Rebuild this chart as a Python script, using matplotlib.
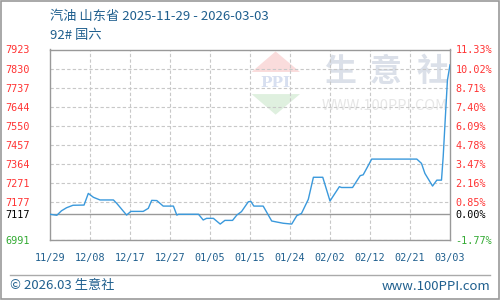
import numpy as np
import matplotlib
matplotlib.use('Agg')
import matplotlib.pyplot as plt
from matplotlib.patches import Rectangle, Polygon

plt.rcParams['font.family'] = ['Noto Sans CJK SC', 'DejaVu Sans']

# price series, x = days since 2025-11-29
days = [0, 1.6, 2.7, 3.9, 5.4, 8.0, 9.0, 10.2, 11.75, 14.9, 15.7, 18.0, 19.0, 21.9,
        23.1, 23.9, 25.1, 26.6, 29.0, 29.8, 30.2, 34.9, 36.0, 36.8, 38.4, 40.0, 41.1,
        42.9, 43.9, 45.0, 46.6, 47.2, 47.9, 50.1, 52.1, 53.3, 54.8, 56.8, 58.0, 59.1,
        60.7, 61.9, 64.1, 65.8, 68.0, 68.5, 71.1, 72.9, 73.6, 75.6, 86.2, 87.3, 88.1,
        89.9, 90.9, 92.0, 92.4, 93.0, 93.4, 94]
prices = [7117, 7112, 7134, 7149, 7161, 7162, 7219, 7200, 7187, 7187, 7170, 7113, 7131, 7131,
          7146, 7185, 7184, 7157, 7157, 7113, 7117, 7117, 7089, 7097, 7097, 7069, 7087,
          7087, 7113, 7130, 7178, 7180, 7157, 7157, 7084, 7079, 7073, 7069, 7110, 7121,
          7190, 7298, 7298, 7182, 7252, 7248, 7248, 7306, 7310, 7387, 7387, 7366, 7317,
          7255, 7284, 7284, 7399, 7627, 7774, 7848]

base = 7117
# percent change levels shown on the right axis
pct_ticks = [11.33, 10.02, 8.71, 7.40, 6.09, 4.78, 3.47, 2.16, 0.85, 0.00, -1.77]
x_labels = ['11/29', '12/08', '12/17', '12/27', '01/05', '01/15', '01/24',
            '02/02', '02/12', '02/21', '03/03']
total_days = 94

y_ticks = [base * (1 + p / 100) for p in pct_ticks]

blue_text = '#1f5f8e'
red = '#ff3333'
green = '#33aa33'
mono = 'DejaVu Sans Mono'

fig = plt.figure(figsize=(5, 3), dpi=100)
ax = fig.add_axes([50/500, 1 - 240/300, 400/500, 190.5/300])
ax.set_xlim(0, total_days)
ax.set_ylim(min(y_ticks), max(y_ticks))

# watermark
for ch, xf in zip('生意社', [0.725, 0.84, 0.9575]):
    ax.text(xf, 0.882, ch, transform=ax.transAxes, ha='center', va='center',
            fontsize=23, color='#dbe0e9', fontweight='bold', zorder=0)
ax.text(0.8375, 0.706, 'WWW.100PPI.COM', transform=ax.transAxes, ha='center', va='center',
        fontsize=10.5, color='#e6e6e6', zorder=0)
ax.add_patch(Polygon([[0.504, 0.882], [0.625, 0.882], [0.564, 0.99]], closed=True,
                     transform=ax.transAxes, color='#fadcdc', zorder=0, lw=0))
ax.add_patch(Polygon([[0.504, 0.766], [0.625, 0.766], [0.564, 0.658]], closed=True,
                     transform=ax.transAxes, color='#dff0df', zorder=0, lw=0))
ax.text(0.5625, 0.824, 'PPI', transform=ax.transAxes, ha='center', va='center',
        fontsize=11, color='#d7dff0', fontweight='bold', family='DejaVu Serif', zorder=0)

# grid
for v, p in zip(y_ticks, pct_ticks):
    if p != 0:
        ax.axhline(v, color='#c8c8c8', ls=(0, (3, 2)), lw=0.8, zorder=1)
for t in np.linspace(0, total_days, len(x_labels))[1:-1]:
    ax.axvline(t, color='#c8c8c8', ls=(0, (3, 2)), lw=0.8, zorder=1)
ax.axhline(base, color='#999999', lw=1, zorder=2)

ax.plot(days, prices, color='#3a99dc', lw=1.0, zorder=3)

for s in ax.spines.values():
    s.set_color('#999999')
    s.set_linewidth(1)

ax.set_xticks(np.linspace(0, total_days, len(x_labels)))
ax.set_xticklabels(x_labels, family=mono, fontsize=7.3, color=blue_text)
ax.tick_params(axis='x', length=0, pad=9)

ax.set_yticks(y_ticks)
ax.set_yticklabels(['%d' % round(v) for v in y_ticks], family=mono, fontsize=7.3, ha='left')
ax.tick_params(axis='y', length=0, pad=32)

ax2 = ax.twinx()
ax2.set_ylim(ax.get_ylim())
ax2.set_yticks(y_ticks)
ax2.set_yticklabels(['%.2f%%' % p for p in pct_ticks], family=mono, fontsize=7.3)
ax2.tick_params(axis='y', length=0, pad=4)
for s in ax2.spines.values():
    s.set_visible(False)

for axis in (ax, ax2):
    for lab, p in zip(axis.get_yticklabels(), pct_ticks):
        lab.set_color(red if p > 0 else ('black' if p == 0 else green))

# titles
fig.text(50/500, 1 - 16/300, '汽油 山东省 2025-11-29 - 2026-03-03', fontsize=9.5,
         color=blue_text, va='center', ha='left')
fig.text(50/500, 1 - 35/300, '92# 国六', fontsize=9.5, color=blue_text,
         va='center', ha='left')

# footer
fig.add_artist(plt.Line2D([10/500, 490/500], [1 - 275/300, 1 - 275/300],
                          color='#aaaaaa', lw=1))
fig.text(10/500, 1 - 286/300, '© 2026.03 生意社', fontsize=9.5, color=blue_text,
         va='center', ha='left')
fig.text(490/500, 1 - 286/300, 'www.100PPI.com', fontsize=9.5, color=blue_text,
         va='center', ha='right')

fig.add_artist(Rectangle((0.001, 0.002), 0.997, 0.996, transform=fig.transFigure,
                         fill=False, edgecolor='#999999', lw=1.2))

fig.savefig('out.png', dpi=100)
